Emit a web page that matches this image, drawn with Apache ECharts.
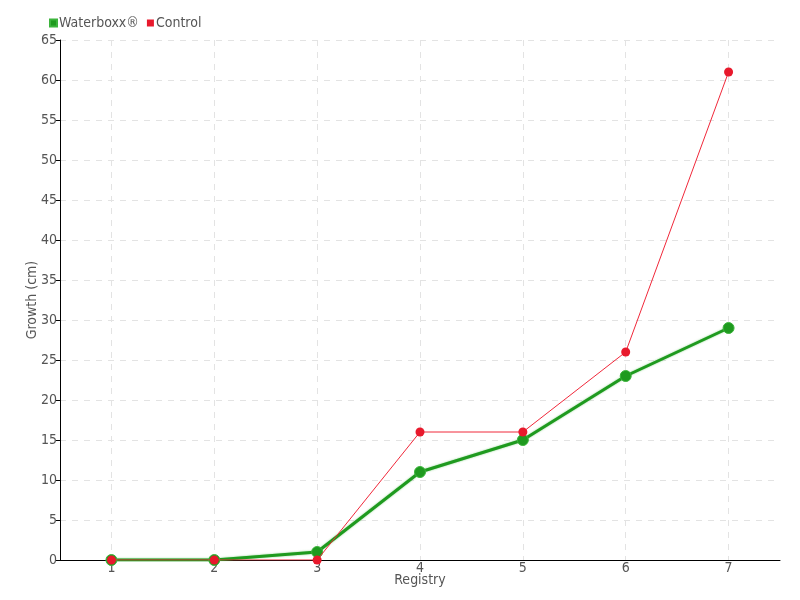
<!DOCTYPE html>
<html>
<head>
<meta charset="utf-8">
<script src="https://cdn.jsdelivr.net/npm/echarts@6/dist/echarts.min.js"></script>
<style>
  html, body { margin: 0; padding: 0; background: #fff; }
  #chart { width: 800px; height: 600px; }
</style>
</head>
<body>
<div id="chart"></div>
<script>
// registry numbers on the x axis
const registries = ["1", "2", "3", "4", "5", "6", "7"];
// growth in cm
const waterboxx = [0, 0, 1, 11, 15, 23, 29];
const control = [0, 0, 0, 16, 16, 26, 61];

const font = "'DejaVu Sans Condensed', 'Liberation Sans Narrow', sans-serif";
const grey = "#555";

const chart = echarts.init(document.getElementById("chart"));
chart.setOption({
  animation: false,
  textStyle: { fontFamily: font },
  legend: {
    left: 44,
    top: 11,
    itemWidth: 7,
    itemHeight: 7,
    itemGap: 8,
    icon: "rect",
    textStyle: { fontFamily: font, fontSize: 14, color: grey, padding: [0, 0, 0, -3] },
    data: ["Waterboxx®", "Control"],
  },
  grid: { left: 60, right: 20, top: 40, bottom: 40 },
  xAxis: {
    type: "category",
    data: registries,
    name: "Registry",
    nameLocation: "middle",
    nameGap: 13,
    nameMoveOverlap: false,
    nameTextStyle: { fontFamily: font, fontSize: 14, color: grey },
    axisLine: { lineStyle: { color: "#000", width: 1 } },
    axisTick: { alignWithLabel: true, length: 3, lineStyle: { color: "#000" } },
    axisLabel: { fontFamily: font, fontSize: 14, color: grey, margin: 1 },
    splitLine: { show: true, alignWithLabel: true, lineStyle: { color: "#e3e3e3", type: [6, 6] } },
  },
  yAxis: {
    type: "value",
    min: 0,
    max: 65,
    interval: 5,
    name: "Growth (cm)",
    nameLocation: "middle",
    nameGap: 21,
    nameMoveOverlap: false,
    nameTextStyle: { fontFamily: font, fontSize: 14, color: grey },
    axisLine: { show: true, lineStyle: { color: "#000", width: 1 } },
    axisTick: { show: true, length: 4, lineStyle: { color: "#000" } },
    axisLabel: { fontFamily: font, fontSize: 14, color: grey, margin: 3 },
    splitLine: { show: true, lineStyle: { color: "#e3e3e3", type: [6, 6] } },
  },
  series: [
    {
      name: "Waterboxx®",
      type: "line",
      data: waterboxx,
      color: "#1f9a1f",
      symbol: "circle",
      symbolSize: 11,
      z: 2,
      lineStyle: { width: 3, color: "#1f9a1f", shadowColor: "rgba(60,180,60,0.6)", shadowBlur: 2 },
      itemStyle: { color: "#1f9a1f", borderColor: "#3cb43c", borderWidth: 1 },
    },
    {
      name: "Control",
      type: "line",
      data: control,
      color: "#e8192c",
      symbol: "circle",
      symbolSize: 9,
      z: 3,
      lineStyle: { width: 1, color: "#f0283a" },
      itemStyle: { color: "#e8192c" },
    },
  ],
});
</script>
</body>
</html>
